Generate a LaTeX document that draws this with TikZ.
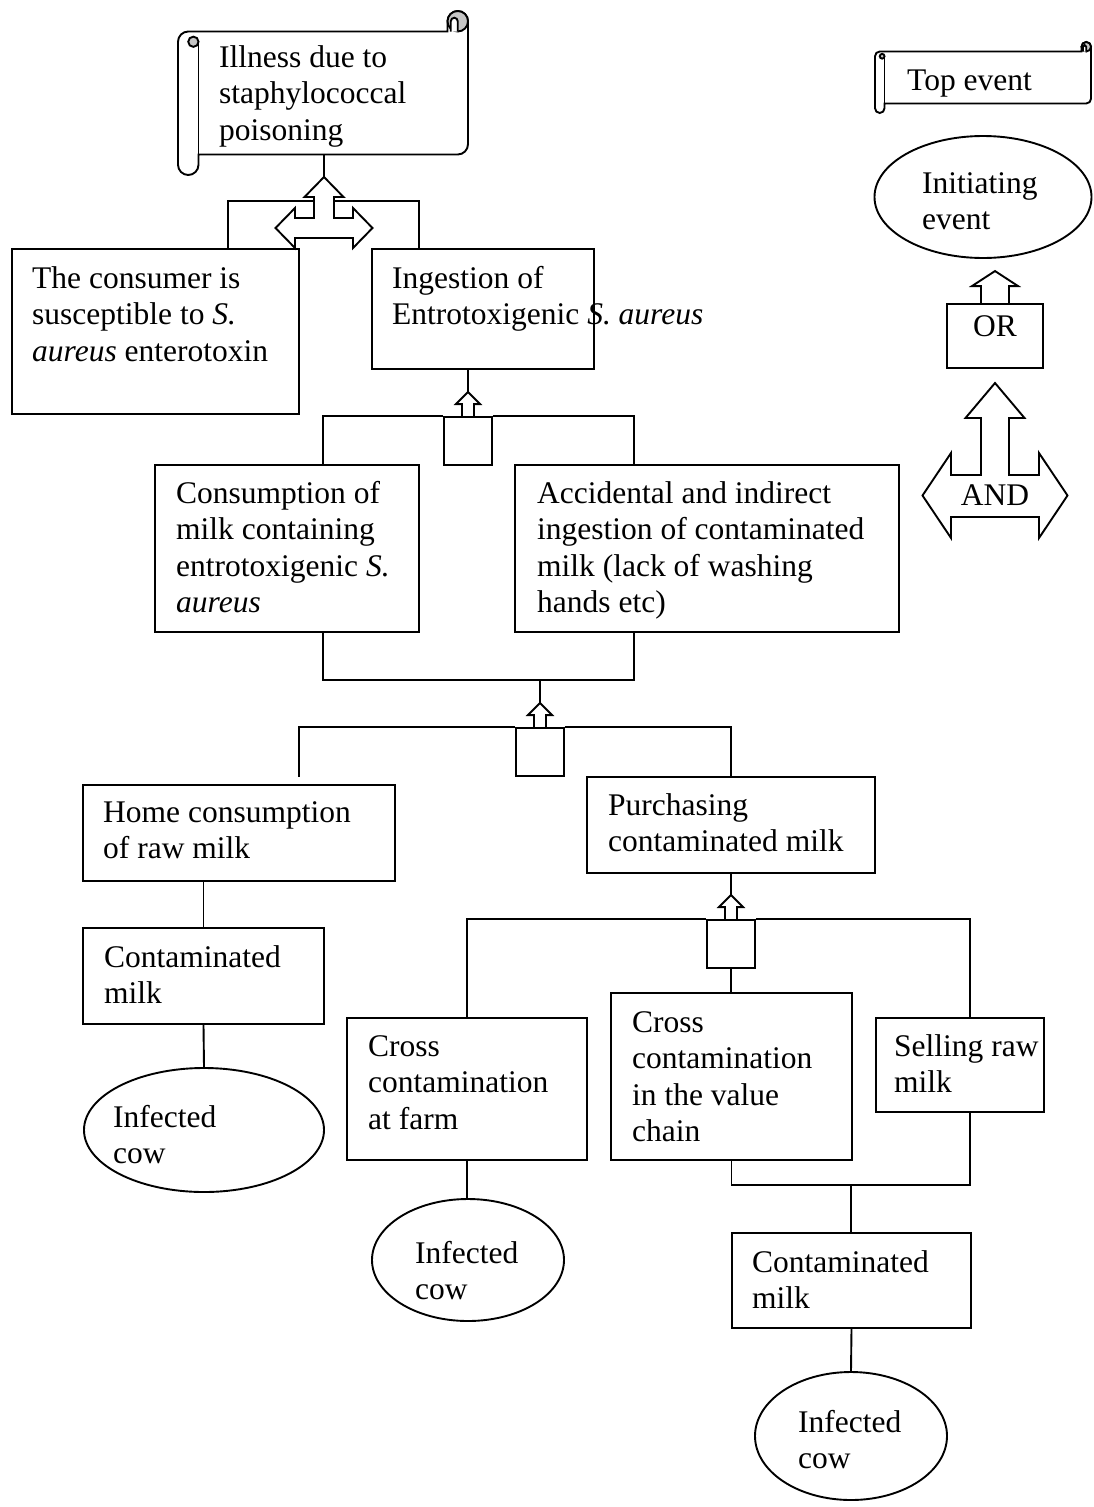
\documentclass[tikz,border=0pt]{standalone}
\usepackage{fontspec}
\setmainfont{Liberation Serif}
\usetikzlibrary{shapes.geometric}
\newcommand{\hscroll}[5]{%
  \pgfmathsetmacro{\scrL}{#1}\pgfmathsetmacro{\scrT}{#2}%
  \pgfmathsetmacro{\scrR}{#3}\pgfmathsetmacro{\scrB}{#4}%
  \pgfmathsetmacro{\scrC}{#5}\pgfmathsetmacro{\scrH}{#5/2}%
  \pgfmathsetmacro{\scrQ}{#5/4}\pgfmathsetmacro{\scrN}{#5*0.17}%
  \draw[ln, fill=white] (\scrL,\scrT+\scrC+\scrH)
    arc[start angle=180, end angle=90, radius=\scrH pt]
    -- (\scrR-\scrC,\scrT+\scrC) -- (\scrR-\scrC,\scrT+\scrH)
    arc[start angle=180, end angle=0, radius=\scrH pt]
    -- (\scrR,\scrB-\scrC-\scrH)
    arc[start angle=0, end angle=-90, radius=\scrH pt]
    -- (\scrL+\scrC,\scrB-\scrC) -- (\scrL+\scrC,\scrB-\scrH)
    arc[start angle=0, end angle=-180, radius=\scrH pt] -- cycle;
  \draw[ln] (\scrL+\scrC,\scrT+\scrC+\scrH) -- (\scrL+\scrC,\scrB-\scrC);
  \filldraw[ln, fill=gray!45] (\scrL+0.75*\scrC,\scrT+\scrC+\scrH) circle[radius=\scrQ pt];
  \filldraw[ln, fill=gray!45] (\scrR-\scrH,\scrT+\scrH) circle[radius=\scrH pt];
  \filldraw[ln, fill=white] (\scrR-\scrH,\scrT+\scrC) -- (\scrR-\scrH,\scrT+\scrH)
    arc[start angle=0, end angle=180, radius=\scrN pt] -- (\scrR-\scrH-2*\scrN,\scrT+\scrC);
}
\newcommand{\orgate}[3]{%
  \node[gatebox] (#1) at (#2,#3+48) {};
  \draw[ln] (#1.north) ++(-6,0) -- ++(0,-12) -- ++(-6,0) -- ++(12,-12) coordinate (#1apex)
    -- ++(12,12) -- ++(-6,0) -- ++(0,12);
}
\begin{document}
\begin{tikzpicture}[x=1pt,y=-1pt,
  ln/.style={line width=1.9pt, line join=miter},
  box/.style={ln, draw, rectangle, inner sep=0pt},
  ell/.style={ln, draw, ellipse, inner sep=0pt},
  txt/.style={inner sep=0pt, anchor=base west, align=left, font=\fontsize{31.5}{36.5}\selectfont},
  ctxt/.style={inner sep=0pt, anchor=base, font=\fontsize{31.5}{36.5}\selectfont},
  gatebox/.style={box, minimum width=48pt, minimum height=48pt},
]
\useasboundingbox (0,0) rectangle (1093,1507);

% ---------- top event scroll ----------
\hscroll{178}{11}{468}{175}{20.5}
\node[txt] (tIll) at (219,140) {Illness due to\\staphylococcal\\poisoning};
\coordinate (topOut) at (324,155);

% ---------- AND gate under top event ----------
\draw[ln] (324,177) coordinate (a1apex) -- (343.5,197) -- (334,197) -- (334,218) -- (353,218)
  -- (353,208) -- (372.5,228) -- (353,248) -- (353,238) -- (295,238) -- (295,248)
  -- (275.5,228) -- (295,208) -- (295,218) -- (314,218) -- (314,197) -- (304.5,197) -- cycle;
\coordinate (a1L) at (314,201);
\coordinate (a1R) at (334,201);
\draw[ln] (topOut) -- (a1apex);

% ---------- boxes ----------
\node[box, minimum width=287pt, minimum height=165pt] (consumer) at (155.5,331.5) {};
\node[txt] (tConsumer) at (32,361) {The consumer is\\susceptible to \textit{S.}\\\textit{aureus} enterotoxin};
\node[box, minimum width=222pt, minimum height=120pt] (ingest) at (483,309) {};
\node[txt] (tIngest) at (392,324.5) {Ingestion of\\Entrotoxigenic \textit{S. aureus}};

\node[box, minimum width=264pt, minimum height=167pt] (cons) at (287,548.5) {};
\node[txt] (tCons) at (176,612.5) {Consumption of\\milk containing\\entrotoxigenic \textit{S.}\\\textit{aureus}};
\node[box, minimum width=384pt, minimum height=167pt] (acc) at (707,548.5) {};
\node[txt] (tAcc) at (537,612.5) {Accidental and indirect\\ingestion of contaminated\\milk (lack of washing\\hands etc)};

\node[box, minimum width=312pt, minimum height=96pt] (home) at (239,833) {};
\node[txt] (tHome) at (103,858.5) {Home consumption\\of raw milk};
\node[box, minimum width=288pt, minimum height=96pt] (purch) at (731,825) {};
\node[txt] (tPurch) at (608,851.5) {Purchasing\\contaminated milk};

\node[box, minimum width=241pt, minimum height=96pt] (cm1) at (203.5,976) {};
\node[txt] (tCm1) at (104,1003.5) {Contaminated\\milk};
\node[ell, minimum width=240pt, minimum height=124pt] (inf1) at (204,1130) {};
\node[txt] (tInf1) at (113,1163.5) {Infected\\cow};

\node[box, minimum width=240pt, minimum height=142pt] (farm) at (467,1089) {};
\node[txt] (tFarm) at (368,1129) {Cross\\contamination\\at farm};
\node[box, minimum width=241pt, minimum height=167pt] (chain) at (731.5,1076.5) {};
\node[txt] (tChain) at (632,1141.5) {Cross\\contamination\\in the value\\chain};
\node[box, minimum width=168pt, minimum height=94pt] (sell) at (960,1065) {};
\node[txt] (tSell) at (894,1092.5) {Selling raw\\milk};

\node[ell, minimum width=192pt, minimum height=122pt] (inf2) at (468,1260) {};
\node[txt] (tInf2) at (415,1299.5) {Infected\\cow};

\node[box, minimum width=239pt, minimum height=95pt] (cm2) at (851.5,1280.5) {};
\node[txt] (tCm2) at (752,1308.5) {Contaminated\\milk};
\node[ell, minimum width=192pt, minimum height=128pt] (inf3) at (851,1436) {};
\node[txt] (tInf3) at (798,1468.5) {Infected\\cow};

% ---------- OR gates ----------
\orgate{g1}{468}{393}
\orgate{g2}{540}{704}
\orgate{g3}{731}{896}

% ---------- connectors ----------
\draw[ln] (a1L) -| (consumer.north -| 228,0);
\draw[ln] (a1R) -| (ingest.north -| 419,0);

\draw[ln] (ingest.south -| 468,0) -- (g1apex);
\draw[ln] (g1.north west) -| (cons.north -| 323,0);
\draw[ln] (g1.north east) -| (acc.north -| 634,0);

\coordinate (j2) at (540,680);
\draw[ln] (cons.south -| 323,0) |- (j2) -| (acc.south -| 634,0);
\draw[ln] (j2) -- (g2apex);
\coordinate (homeIn) at (299,777);
\draw[ln] (g2.north west) -| (homeIn);
\draw[ln] (g2.north east) -| (purch.north);

\draw[ln] (cm1.north |- home.south) -- (cm1.north);
\draw[ln] (cm1.south) -- (inf1.north);

\draw[ln] (purch.south) -- (g3apex);
\draw[ln] (g3.south) -- (g3.south |- chain.north);
\draw[ln] (g3.north west) -| (farm.north);
\draw[ln] (g3.north east) -| (sell.north -| 970,0);

\draw[ln] (farm.south) -- (farm.south |- inf2.north);

\coordinate (j3) at (851,1185);
\draw[ln] (chain.south) |- (j3) -| (sell.south -| 970,0);
\draw[ln] (j3) -- (j3 |- cm2.north);
\draw[ln] (cm2.south) -- (inf3.north);

% ---------- legend ----------
\hscroll{875}{42}{1091}{113}{9.5}
\node[txt] (tTop) at (907,90) {Top event};

\node[ell, minimum width=217pt, minimum height=122pt] (init) at (983,197) {};
\node[txt] (tInit) at (922,229.5) {Initiating\\event};

\node[box, minimum width=96pt, minimum height=64pt] (orbox) at (995,336) {};
\draw[ln] (orbox.north) ++(-14,0) -- ++(0,-17) -- ++(-9,0) -- ++(23,-15) -- ++(23,15) -- ++(-9,0) -- ++(0,17);
\node[ctxt] (tOr) at (995,336) {OR};

\draw[ln] (995,383) -- (1024.5,418) -- (1009,418) -- (1009,475) -- (1039,475) -- (1039,453)
  -- (1067.5,495.5) -- (1039,538) -- (1039,517) -- (951,517) -- (951,538) -- (922.5,495.5)
  -- (951,453) -- (951,475) -- (981,475) -- (981,418) -- (965.5,418) -- cycle;
\node[ctxt] (tAnd) at (995,505) {AND};
\end{tikzpicture}
\end{document}
